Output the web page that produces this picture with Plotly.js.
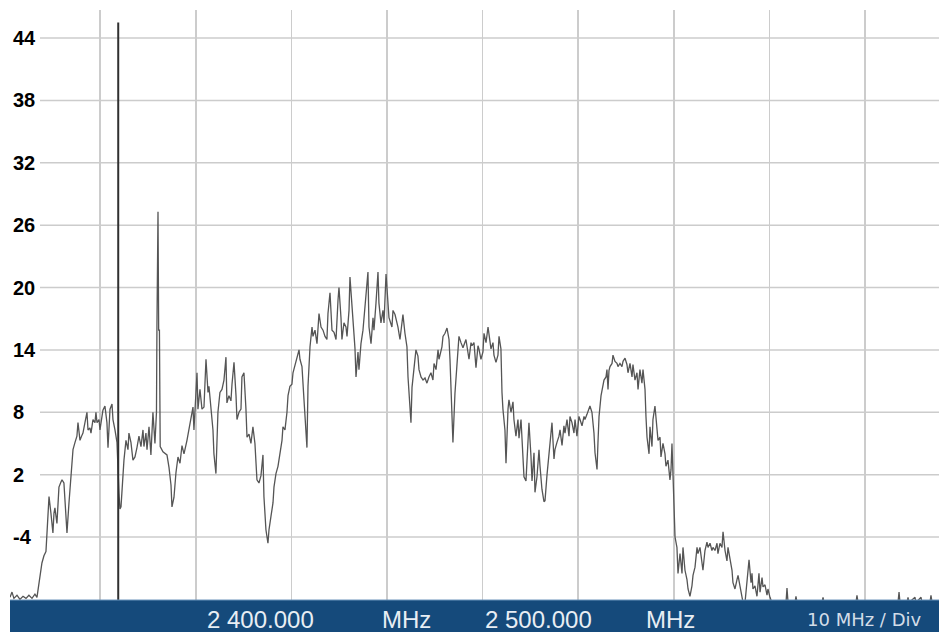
<!DOCTYPE html>
<html>
<head>
<meta charset="utf-8">
<script src="https://cdn.plot.ly/plotly-3.0.1.min.js"></script>
<style>
  html, body { margin: 0; padding: 0; background: #ffffff; }
  #chart { width: 939px; height: 632px; }
</style>
</head>
<body>
<div id="chart"></div>
<script>
// Spectrum trace (frequency in MHz, level in dB)
const freqMHz = [
  2400.57, 2400.78, 2400.98, 2401.30, 2401.61, 2401.93, 2402.24, 2402.55, 2402.87, 2403.18,
  2403.39, 2403.60, 2403.81, 2403.91, 2404.12, 2404.33, 2404.44, 2404.65, 2404.85, 2405.06,
  2405.17, 2405.27, 2405.48, 2405.69, 2405.90, 2406.01, 2406.21, 2406.42, 2406.53, 2406.74,
  2406.95, 2407.16, 2407.37, 2407.57, 2407.68, 2407.89, 2408.10, 2408.20, 2408.41, 2408.62,
  2408.73, 2408.93, 2409.04, 2409.25, 2409.46, 2409.56, 2409.67, 2409.88, 2409.98, 2410.19,
  2410.29, 2410.50, 2410.71, 2410.82, 2411.03, 2411.24, 2411.34, 2411.55, 2411.76, 2411.97,
  2412.07, 2412.18, 2412.39, 2412.49, 2412.70, 2412.91, 2413.01, 2413.22, 2413.43, 2413.64,
  2413.85, 2414.06, 2414.27, 2414.48, 2414.58, 2414.79, 2414.90, 2415.11, 2415.31, 2415.42,
  2415.52, 2415.73, 2415.89, 2415.94, 2416.05, 2416.12, 2416.20, 2416.28, 2416.57, 2416.99,
  2417.20, 2417.41, 2417.51, 2417.72, 2417.93, 2418.14, 2418.35, 2418.56, 2418.77, 2419.08,
  2419.29, 2419.50, 2419.71, 2419.81, 2420.13, 2420.23, 2420.44, 2420.65, 2420.86, 2421.07,
  2421.28, 2421.38, 2421.59, 2421.80, 2421.90, 2422.11, 2422.32, 2422.53, 2422.74, 2422.95,
  2423.16, 2423.26, 2423.47, 2423.68, 2423.79, 2424.00, 2424.21, 2424.31, 2424.52, 2424.73,
  2424.83, 2425.04, 2425.25, 2425.36, 2425.57, 2425.77, 2425.98, 2426.19, 2426.40, 2426.61,
  2426.82, 2427.03, 2427.13, 2427.34, 2427.55, 2427.66, 2427.87, 2428.08, 2428.18, 2428.39,
  2428.60, 2428.81, 2429.02, 2429.12, 2429.33, 2429.54, 2429.65, 2429.85, 2430.06, 2430.17,
  2430.38, 2430.59, 2430.69, 2430.80, 2430.90, 2431.11, 2431.32, 2431.53, 2431.63, 2431.74,
  2431.95, 2432.16, 2432.26, 2432.47, 2432.68, 2432.89, 2433.10, 2433.31, 2433.52, 2433.72,
  2433.83, 2434.04, 2434.25, 2434.46, 2434.67, 2434.88, 2434.98, 2435.19, 2435.29, 2435.50,
  2435.71, 2435.82, 2436.03, 2436.13, 2436.34, 2436.44, 2436.65, 2436.76, 2436.97, 2437.07,
  2437.28, 2437.49, 2437.59, 2437.80, 2438.01, 2438.12, 2438.33, 2438.54, 2438.64, 2438.85,
  2439.06, 2439.16, 2439.37, 2439.58, 2439.69, 2439.90, 2440.11, 2440.21, 2440.52, 2440.63,
  2440.84, 2441.05, 2441.15, 2441.36, 2441.57, 2441.67, 2441.88, 2442.09, 2442.20, 2442.41,
  2442.51, 2442.62, 2442.82, 2443.03, 2443.24, 2443.35, 2443.56, 2443.77, 2443.98, 2444.18,
  2444.39, 2444.60, 2444.81, 2444.92, 2445.13, 2445.34, 2445.44, 2445.75, 2445.86, 2446.07,
  2446.28, 2446.49, 2446.59, 2446.80, 2446.90, 2447.11, 2447.32, 2447.53, 2447.74, 2447.95,
  2448.26, 2448.37, 2448.58, 2448.79, 2448.89, 2449.10, 2449.31, 2449.52, 2449.62, 2449.83,
  2450.04, 2450.15, 2450.36, 2450.57, 2450.67, 2450.88, 2451.09, 2451.19, 2451.40, 2451.61,
  2451.72, 2451.92, 2452.03, 2452.13, 2452.34, 2452.45, 2452.66, 2452.76, 2452.97, 2453.18,
  2453.28, 2453.49, 2453.70, 2453.81, 2454.02, 2454.23, 2454.33, 2454.54, 2454.75, 2454.85,
  2455.06, 2455.17, 2455.38, 2455.48, 2455.69, 2455.90, 2456.00, 2456.21, 2456.42, 2456.53,
  2456.74, 2456.95, 2457.05, 2457.26, 2457.47, 2457.57, 2457.78, 2457.99, 2458.10, 2458.31,
  2458.51, 2458.62, 2458.83, 2459.04, 2459.14, 2459.35, 2459.56, 2459.67, 2459.87, 2460.08,
  2460.19, 2460.40, 2460.61, 2460.71, 2460.92, 2461.13, 2461.23, 2461.44, 2461.65, 2461.76,
  2461.97, 2462.07, 2462.18, 2462.39, 2462.59, 2462.70, 2462.91, 2463.01, 2463.12, 2463.22,
  2463.33, 2463.54, 2463.64, 2463.85, 2464.06, 2464.16, 2464.37, 2464.58, 2464.69, 2464.90,
  2465.10, 2465.21, 2465.42, 2465.63, 2465.73, 2465.94, 2466.15, 2466.26, 2466.46, 2466.67,
  2466.78, 2466.99, 2467.09, 2467.20, 2467.41, 2467.51, 2467.72, 2467.82, 2468.03, 2468.24,
  2468.35, 2468.56, 2468.66, 2468.87, 2469.08, 2469.18, 2469.39, 2469.60, 2469.71, 2469.81,
  2469.92, 2470.02, 2470.13, 2470.33, 2470.44, 2470.65, 2470.86, 2470.96, 2471.17, 2471.38,
  2471.49, 2471.69, 2471.90, 2472.01, 2472.22, 2472.43, 2472.53, 2472.74, 2472.95, 2473.05,
  2473.26, 2473.47, 2473.58, 2473.79, 2473.99, 2474.10, 2474.31, 2474.52, 2474.62, 2474.83,
  2475.04, 2475.15, 2475.36, 2475.56, 2475.67, 2475.88, 2476.09, 2476.19, 2476.40, 2476.61,
  2476.72, 2476.92, 2477.13, 2477.24, 2477.45, 2477.66, 2477.87, 2478.08, 2478.18, 2478.28,
  2478.49, 2478.70, 2478.81, 2478.91, 2479.02, 2479.23, 2479.33, 2479.54, 2479.75, 2479.85,
  2480.06, 2480.27, 2481.74, 2481.84, 2481.95, 2482.68, 2482.78, 2482.89, 2485.50, 2485.61,
  2485.71, 2489.06, 2489.16, 2489.27, 2493.45, 2493.56, 2493.66, 2494.39, 2494.50, 2494.60,
  2495.23, 2495.33, 2495.86, 2495.96, 2496.80, 2496.90, 2497.01, 2497.74
];
const levelDb = [
  -9.8, -9.3, -9.9, -9.6, -10.0, -9.7, -9.9, -9.6, -9.9, -9.5,
  -9.8, -8.5, -7.2, -6.5, -5.8, -5.4, -3.6, -0.1, -1.7, -3.6,
  -1.7, -1.2, -2.7, 0.8, 1.3, 1.5, 1.2, -2.7, -3.6, -0.7,
  1.5, 4.4, 5.1, 5.7, 7.0, 5.3, 5.8, 6.0, 7.0, 8.0,
  6.3, 6.5, 6.0, 7.3, 7.0, 8.0, 7.0, 7.3, 6.3, 8.0,
  8.2, 8.6, 7.0, 4.6, 8.3, 8.8, 7.3, 6.3, 5.1, 0.2,
  -1.3, -1.1, 2.4, 3.4, 5.3, 4.4, 6.0, 5.1, 3.4, 3.7,
  4.6, 5.7, 4.7, 6.3, 4.7, 6.0, 4.4, 6.6, 3.9, 6.3,
  8.0, 5.0, 8.0, 16.3, 27.3, 15.9, 15.9, 4.7, 4.2, 3.9,
  2.7, 1.0, -1.1, -0.2, 2.2, 3.7, 3.1, 4.8, 4.0, 5.3,
  6.3, 7.6, 8.5, 6.3, 11.8, 8.3, 10.2, 8.3, 8.5, 13.1,
  9.9, 10.5, 8.3, 6.3, 4.0, 2.1, 8.0, 9.9, 10.2, 11.1,
  13.3, 8.9, 9.6, 9.1, 10.7, 12.8, 9.6, 7.3, 8.0, 8.3,
  11.4, 11.8, 8.3, 5.6, 5.9, 5.0, 6.6, 5.0, 1.5, 1.2,
  1.9, 3.9, -0.1, -3.3, -4.6, -3.3, -2.0, -0.7, 0.8, 2.1,
  2.8, 4.0, 5.3, 6.6, 6.3, 8.0, 9.6, 10.5, 10.7, 11.8,
  12.5, 13.1, 13.7, 14.0, 13.1, 12.4, 9.2, 6.0, 4.6, 10.5,
  14.3, 16.2, 15.3, 15.9, 14.6, 17.5, 16.2, 15.9, 15.3, 15.0,
  17.5, 19.5, 15.9, 15.7, 15.0, 18.8, 20.0, 17.1, 15.0, 16.6,
  16.2, 15.3, 17.8, 21.0, 18.5, 17.1, 14.2, 11.4, 13.8, 12.1,
  14.6, 15.9, 17.1, 19.8, 21.5, 16.2, 14.6, 17.1, 15.9, 18.5,
  21.5, 18.5, 16.6, 17.8, 16.6, 21.3, 17.8, 17.1, 16.2, 17.8,
  17.4, 16.6, 16.2, 15.0, 17.1, 17.4, 15.6, 14.3, 11.4, 8.6,
  7.0, 10.4, 12.1, 14.0, 13.4, 12.1, 11.4, 11.1, 11.3, 10.8,
  11.4, 11.8, 11.1, 12.7, 12.1, 14.0, 13.1, 14.3, 15.3, 15.6,
  16.1, 15.0, 13.1, 8.3, 5.1, 9.8, 13.1, 15.3, 14.7, 14.2,
  15.0, 14.4, 13.1, 14.7, 14.4, 14.7, 12.3, 14.4, 14.1, 13.1,
  13.8, 15.6, 14.7, 16.2, 15.3, 14.1, 14.7, 13.5, 12.8, 13.5,
  15.3, 14.1, 9.9, 8.3, 6.3, 3.1, 8.3, 9.2, 8.0, 9.0,
  7.3, 5.7, 7.3, 5.5, 7.3, 4.1, 1.8, 1.4, 5.1, 7.0,
  3.8, 1.4, 4.1, 0.3, 1.8, 4.4, 2.9, 0.6, -0.6, -0.5,
  2.0, 4.1, 5.1, 7.0, 3.5, 4.4, 5.1, 5.7, 6.3, 4.8,
  6.7, 6.0, 7.3, 5.7, 7.6, 7.0, 6.0, 7.3, 5.7, 7.6,
  7.3, 6.7, 7.6, 7.3, 7.8, 8.3, 8.6, 8.0, 6.0, 4.1,
  2.5, 5.1, 7.6, 9.6, 10.5, 11.1, 11.4, 12.1, 10.2, 12.0,
  12.4, 12.7, 13.5, 12.9, 12.7, 12.4, 12.7, 12.4, 12.9, 13.2,
  12.6, 11.8, 12.7, 11.4, 12.6, 11.1, 11.8, 10.2, 12.1, 10.8,
  12.1, 10.2, 7.6, 5.6, 4.0, 6.6, 4.7, 7.3, 8.6, 6.6,
  5.3, 5.6, 3.7, 5.0, 4.0, 2.8, 3.4, 1.5, 2.5, 5.0,
  0.9, -2.4, -4.0, -5.0, -7.5, -5.6, -7.5, -5.0, -7.2, -8.1,
  -9.0, -9.7, -8.7, -7.7, -6.9, -5.0, -5.6, -5.0, -6.3, -7.2,
  -5.3, -4.5, -5.0, -4.6, -5.3, -5.0, -5.3, -4.6, -5.6, -4.6,
  -5.0, -3.5, -5.3, -6.3, -5.0, -6.3, -7.2, -8.4, -9.0, -8.1,
  -7.7, -8.7, -9.7, -10.3, -10.3, -8.5, -6.2, -8.4, -7.5, -9.0,
  -8.7, -9.7, -8.1, -7.5, -9.3, -7.9, -8.8, -8.6, -9.6, -9.0,
  -9.8, -10.3, -10.3, -8.9, -10.3, -10.3, -9.7, -10.3, -10.3, -9.8,
  -10.3, -10.3, -9.6, -10.3, -10.3, -9.3, -10.3, -10.3, -9.8, -10.3,
  -9.8, -10.3, -9.8, -10.3, -10.3, -9.6, -10.3, -10.3
];
// Strong carrier line near 2411.9 MHz
const carrierFreq = [2411.89, 2411.89];
const carrierLevel = [-10.3, 45.5];

// Axis ticks and scale
const yTicks = [-4, 2, 8, 14, 20, 26, 32, 38, 44];
const yTickText = ['-4', '2', '8', '14', '20', '26', '32', '38', '44'];
const xRange = [2400.57, 2497.74];
const yRange = [-10.06, 46.7];
const barLabels = ['2 400.000', 'MHz', '2 500.000', 'MHz'];
const divLabel = '10 MHz / Div';

const traces = [
  {
    x: freqMHz, y: levelDb, type: 'scatter', mode: 'lines',
    line: {color: '#555555', width: 1.3},
    hoverinfo: 'skip'
  },
  {
    x: carrierFreq, y: carrierLevel, type: 'scatter', mode: 'lines',
    line: {color: '#303030', width: 2},
    hoverinfo: 'skip'
  }
];

const W = 939, H = 632, ML = 10, MT = 10, MB = 32;
const plotW = W - ML, plotH = H - MT - MB;
const px = v => (v - ML) / plotW;           // pixel x -> paper
const py = v => (H - MB - v) / plotH;        // pixel y -> paper

const labelFont = {family: 'Liberation Sans, Arial, sans-serif', size: 24, color: '#e8eef4'};
const barCenters = [260.5, 406.5, 538, 670.5];

const annotations = barLabels.map((t, i) => ({
  text: t, xref: 'paper', yref: 'paper', x: px(barCenters[i]), y: py(619),
  xanchor: 'center', yanchor: 'middle', showarrow: false, font: labelFont
}));
annotations.push({
  text: divLabel, xref: 'paper', yref: 'paper', x: px(864), y: py(619),
  xanchor: 'center', yanchor: 'middle', showarrow: false,
  font: {family: 'DejaVu Sans, sans-serif', size: 18, color: '#d3dde8'}
});

// horizontal grid lines start right of the tick labels
const gridShapes = yTicks.map(v => ({
  type: 'line', xref: 'paper', yref: 'y', x0: px(40), x1: 1, y0: v, y1: v,
  line: {color: '#cccccc', width: 1.5}, layer: 'below'
}));

const layout = {
  width: W, height: H,
  margin: {l: ML, r: 0, t: MT, b: MB, pad: 0},
  paper_bgcolor: '#ffffff', plot_bgcolor: '#ffffff',
  showlegend: false,
  xaxis: {
    range: xRange, tick0: 2400, dtick: 10, showticklabels: false, ticks: '',
    showgrid: true, gridcolor: '#cccccc', gridwidth: 1.5,
    zeroline: false, showline: false, fixedrange: true
  },
  yaxis: {
    range: yRange, tickmode: 'array', tickvals: yTicks, ticktext: yTickText,
    ticklabelposition: 'inside', ticks: '',
    showgrid: false,
    zeroline: false, showline: false, fixedrange: true,
    tickfont: {family: 'Liberation Sans, Arial, sans-serif', size: 20, color: '#000000', weight: 'bold'}
  },
  shapes: gridShapes.concat([
    {type: 'rect', xref: 'paper', yref: 'paper', x0: 0, x1: 1.02, y0: -0.07, y1: 0,
     fillcolor: '#154a7b', line: {width: 0}, layer: 'above'},
    {type: 'line', xref: 'paper', yref: 'paper', x0: 0, x1: 1.02, y0: 0, y1: 0,
     line: {color: '#6b93bb', width: 1}, layer: 'above'}
  ]),
  annotations: annotations
};

Plotly.newPlot('chart', traces, layout, {displayModeBar: false, staticPlot: true});
</script>
</body>
</html>
